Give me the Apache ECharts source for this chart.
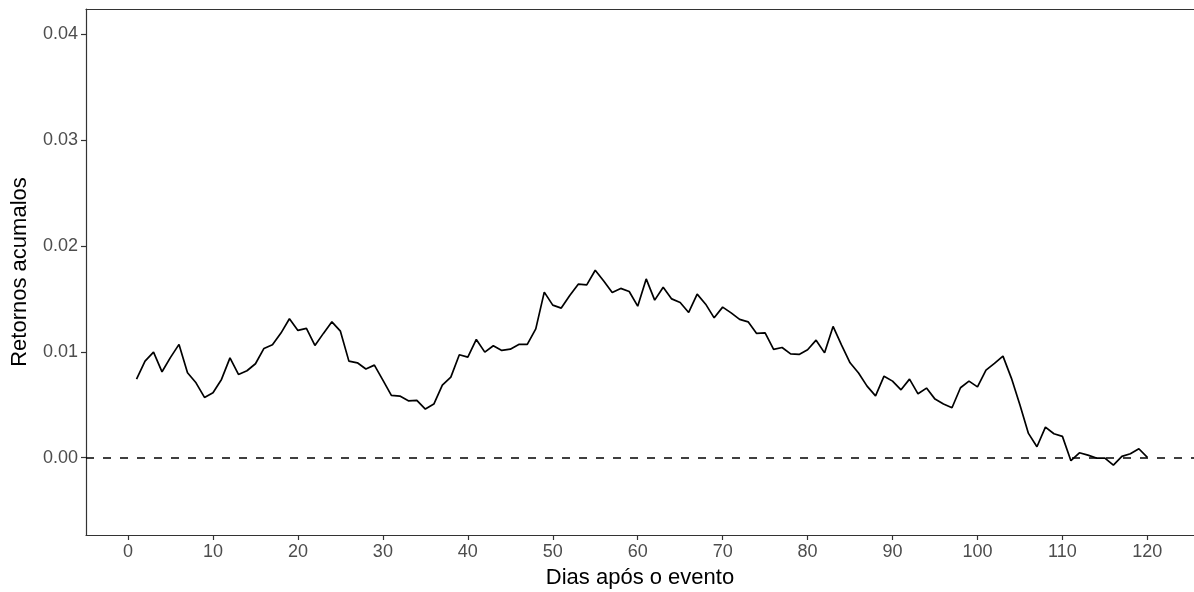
<!DOCTYPE html>
<html>
<head>
<meta charset="utf-8">
<script src="https://cdn.jsdelivr.net/npm/echarts@6/dist/echarts.min.js"></script>
<style>html,body{margin:0;padding:0;background:#fff}#c{width:1194px;height:592px}</style>
</head>
<body>
<div id="c"></div>
<script>
const days = Array.from({length: 120}, (_, i) => i + 1);
const retornos = [
  0.00743, 0.00913, 0.00998, 0.00812, 0.00948, 0.01071, 0.00803, 0.00708, 0.00570, 0.00614,
  0.00740, 0.00944, 0.00787, 0.00822, 0.00888, 0.01033, 0.01067, 0.01178, 0.01313, 0.01203,
  0.01222, 0.01061, 0.01175, 0.01284, 0.01196, 0.00913, 0.00897, 0.00838, 0.00875, 0.00734,
  0.00589, 0.00583, 0.00538, 0.00542, 0.00460, 0.00507, 0.00686, 0.00762, 0.00973, 0.00951,
  0.01118, 0.00998, 0.01058, 0.01014, 0.01026, 0.01071, 0.01071, 0.01218, 0.01565, 0.01442,
  0.01414, 0.01533, 0.01640, 0.01634, 0.01772, 0.01669, 0.01562, 0.01600, 0.01571, 0.01432,
  0.01690, 0.01489, 0.01611, 0.01501, 0.01467, 0.01373, 0.01546, 0.01451, 0.01322, 0.01423,
  0.01369, 0.01307, 0.01284, 0.01175, 0.01180, 0.01024, 0.01042, 0.00982, 0.00976, 0.01020,
  0.01111, 0.00991, 0.01241, 0.01064, 0.00897, 0.00800, 0.00677, 0.00585, 0.00771, 0.00724,
  0.00642, 0.00743, 0.00604, 0.00658, 0.00554, 0.00507, 0.00472, 0.00661, 0.00724, 0.00670,
  0.00828, 0.00891, 0.00960, 0.00750, 0.00498, 0.00230, 0.00104, 0.00290, 0.00227, 0.00202,
  -0.00028, 0.00047, 0.00025, -0.00003, -0.00003, -0.00069, 0.00013, 0.00038, 0.00085, 0.00004
];
const xTicks = [0, 10, 20, 30, 40, 50, 60, 70, 80, 90, 100, 110, 120];
const yTicks = [0, 0.01, 0.02, 0.03, 0.04];

const font = 'Liberation Sans, Arial, Helvetica, sans-serif';
const axisLineStyle = {color: '#333333', width: 1.2};
const chart = echarts.init(document.getElementById('c'), null, {renderer: 'canvas'});
chart.setOption({
  animation: false,
  backgroundColor: '#ffffff',
  grid: {left: 86, right: 0, top: 9, bottom: 57, show: false, outerBoundsMode: 'none', containLabel: false},
  xAxis: [{
    type: 'value', min: -4.95, max: 125.49,
    name: 'Dias após o evento', nameLocation: 'middle', nameGap: 32,
    nameTextStyle: {fontFamily: font, fontSize: 22, color: '#000'},
    axisLine: {show: true, onZero: false, lineStyle: axisLineStyle},
    axisTick: {show: true, length: 5, lineStyle: axisLineStyle, customValues: xTicks},
    axisLabel: {fontFamily: font, fontSize: 18, color: '#4d4d4d', margin: 8, customValues: xTicks, formatter: v => String(v)},
    splitLine: {show: false}
  }, {
    type: 'value', position: 'top', min: -4.95, max: 125.49,
    axisLine: {show: true, onZero: false, lineStyle: axisLineStyle},
    axisTick: {show: false}, axisLabel: {show: false}, splitLine: {show: false}
  }],
  yAxis: {
    type: 'value', min: -0.0073, max: 0.0424,
    name: 'Retornos acumalos', nameLocation: 'middle', nameGap: 55, nameRotate: 90,
    nameTextStyle: {fontFamily: font, fontSize: 22, color: '#000'},
    axisLine: {show: true, onZero: false, lineStyle: axisLineStyle},
    axisTick: {show: true, length: 5, lineStyle: axisLineStyle, customValues: yTicks},
    axisLabel: {fontFamily: font, fontSize: 18, color: '#4d4d4d', margin: 8, customValues: yTicks, formatter: v => v.toFixed(2)},
    splitLine: {show: false}
  },
  series: [{
    type: 'line',
    xAxisIndex: 0,
    data: days.map((d, i) => [d, retornos[i]]),
    showSymbol: false,
    lineStyle: {color: '#000000', width: 1.7},
    markLine: {
      silent: true, symbol: 'none',
      label: {show: false},
      lineStyle: {color: '#000000', width: 1.5, type: [8, 9]},
      data: [{yAxis: 0}]
    }
  }]
});
</script>
</body>
</html>
